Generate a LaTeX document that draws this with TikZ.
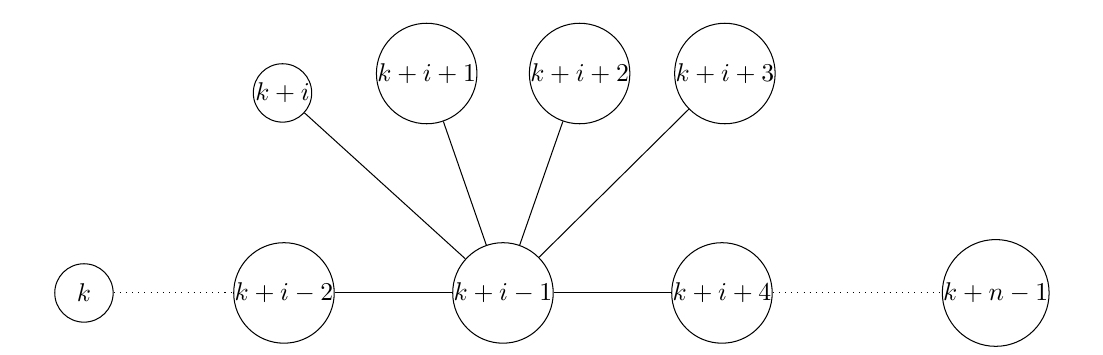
\documentclass[tikz,border=0pt]{standalone}
\usepackage{amsmath}
\usepackage{tikz}

\begin{document}
\begin{tikzpicture}[
  vertex/.style={draw, circle, inner sep=0pt, minimum size=0.8cm},
  edge/.style={thin},
  gap/.style={thin, dotted}
]
\useasboundingbox (0,0) rectangle (15.11,4.863);

\node[vertex] (k) at (1.15,0.85) {$k$};
\node[vertex] (kim2) at (3.89,0.85) {$k+i-2$};
\node[vertex] (kim1) at (6.89,0.85) {$k+i-1$};
\node[vertex] (kip4) at (9.89,0.85) {$k+i+4$};
\node[vertex] (knm1) at (13.64,0.85) {$k+n-1$};

\node[vertex] (ki) at (3.87,3.59) {$k+i$};
\node[vertex] (kip1) at (5.845,3.856) {$k+i+1$};
\node[vertex] (kip2) at (7.94,3.856) {$k+i+2$};
\node[vertex] (kip3) at (9.93,3.856) {$k+i+3$};

\draw[gap] (k) -- (kim2);
\draw[edge] (kim2) -- (kim1);
\draw[edge] (kim1) -- (kip4);
\draw[gap] (kip4) -- (knm1);
\draw[edge] (kim1) -- (ki);
\draw[edge] (kim1) -- (kip1);
\draw[edge] (kim1) -- (kip2);
\draw[edge] (kim1) -- (kip3);
\end{tikzpicture}
\end{document}
